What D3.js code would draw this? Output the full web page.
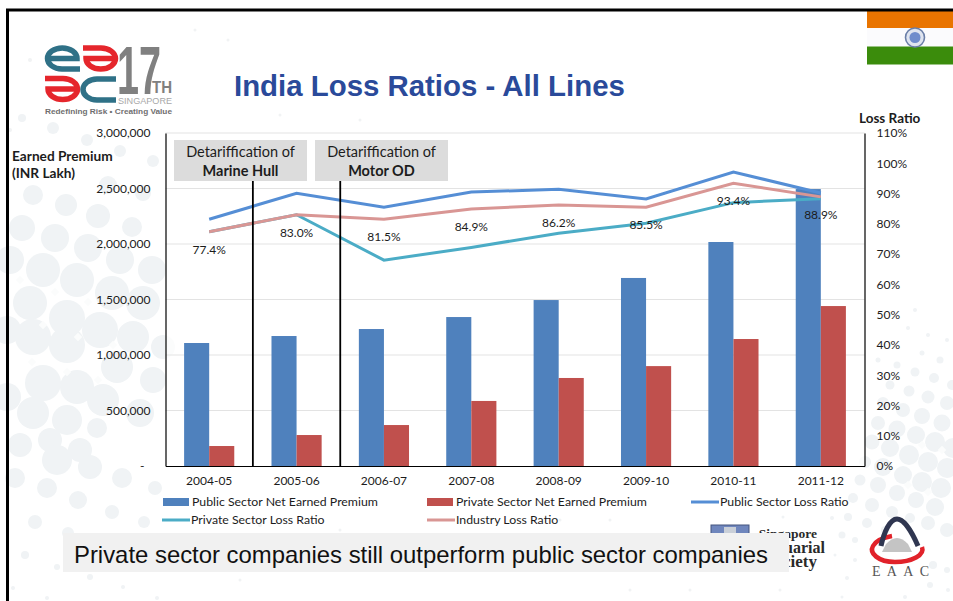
<!DOCTYPE html>
<html>
<head>
<meta charset="utf-8">
<script src="https://cdn.jsdelivr.net/npm/d3@7/dist/d3.min.js"></script>
<style>
  html, body { margin: 0; padding: 0; background: #fff; overflow: hidden; }
  svg { display: block; }
  text { font-family: Lato, "Noto Sans", sans-serif; fill: #1c1c1c; }
</style>
</head>
<body>
<svg id="slide" width="953" height="601"></svg>
<script>
// Fiscal years on the shared category axis
const years = ["2004-05", "2005-06", "2006-07", "2007-08", "2008-09", "2009-10", "2010-11", "2011-12"];

// Net earned premium, INR lakh
const publicPremium = [1108000, 1171000, 1234000, 1342000, 1495000, 1694000, 2018000, 2495000];
const privatePremium = [180000, 279000, 369000, 586000, 793000, 900000, 1144000, 1441000];

// Loss ratios, percent
const publicLoss = [81.5, 90.1, 85.5, 90.5, 91.4, 88.2, 97.1, 90.2];
const privateLoss = [77.4, 83.0, 68.0, 72.2, 76.9, 80.2, 87.0, 88.3];
const industryLoss = [77.4, 83.0, 81.5, 84.9, 86.2, 85.5, 93.4, 88.9];

// Axis ticks
const premiumTicks = [0, 500000, 1000000, 1500000, 2000000, 2500000, 3000000];
const lossTicks = [0, 10, 20, 30, 40, 50, 60, 70, 80, 90, 100, 110];

// Regulatory events, placed on the boundary after a fiscal year
const eventAfterYear = ["2004-05", "2005-06"];
const eventLines = [["Detariffication of", "Marine Hull"], ["Detariffication of", "Motor OD"]];

// Slide wallpaper: bubbles as [x, y, r]
const bubblesLeft = [
  [22,118,4],[53,128,6],[87,140,6],[120,151,6],[153,161,6],[108,185,9],[143,193,8],
  [33,195,10],[66,205,11],[98,216,12],[22,228,13],[55,238,14],[88,248,14],[132,227,10],
  [120,260,14],[152,270,14],[10,260,14],[43,270,17],[77,280,17],[112,293,17],[143,303,17],
  [30,303,17],[67,318,18],[100,330,18],[133,337,16],[163,347,12],[33,337,18],[7,330,14],
  [67,345,18],[117,367,16],[153,380,13],[43,383,18],[77,387,17],[7,397,14],[103,400,16],
  [140,413,14],[33,413,16],[67,420,15],[97,428,10],[20,445,12],[50,440,12],[80,450,12],
  [57,460,15],[90,467,12],[122,478,10],[155,488,7],[15,478,10],[47,488,10],[78,500,9],
  [112,512,7],[144,522,6],[35,522,7],[68,533,6],[25,555,4],[57,567,3],[90,577,3],[123,587,2],
  [13,588,2],[47,598,2],[157,598,2]
];
const bubblesRight = [
  [915,310,2],[908,328,2],[928,335,2],[947,340,2],[922,353,2.5],[940,360,3.5],[878,360,2.5],
  [897,365,3.5],[915,372,4.5],[934,378,5],[952,385,5],[890,385,4.5],[909,391,5.5],[928,397,6.5],
  [947,403,7],[883,403,6],[903,410,7],[922,416,8],[942,423,8.5],[878,423,7],[897,429,8.5],
  [916,435,9],[935,442,10],[953,448,10],[872,442,7.5],[890,448,9],[909,455,10],[928,462,10],
  [947,468,10],[865,462,6],[883,467,9],[903,475,9],[922,482,10],[941,488,10],[860,480,5.5],
  [878,485,8],[897,493,8],[916,500,8],[935,507,9],[853,498,5],[872,505,7],[892,512,6],[910,518,5],
  [928,523,7],[947,530,7],[848,517,4],[867,523,5],[885,530,4],[842,535,3.5],[855,540,3],
  [933,565,4],[947,570,3],[930,585,3],[948,590,2],[905,597,2],[847,578,2],[855,560,2],[842,597,1.5],
  [835,555,1.5],[783,517,1.5],[832,518,2]
];
const specks = [
  [30,60,2],[10,130,2],[195,30,1.5],[228,40,1.5],[280,115,1.5],[360,120,1.5],[240,580,1.5],
  [610,520,1.5],[690,590,1.5],[630,590,1.5],[780,590,1.5],[560,520,1.5],[260,525,2],[340,530,1.5]
];
const sparkles = [
  [55,292],[88,302],[20,280],[43,325],[78,337],[32,362],[67,372],[98,380],[113,345],
  [922,445],[942,450],[908,485],[928,492]
];

const svg = d3.select("#slide");
const plot = { left: 165.5, right: 864.5, top: 133, bottom: 466 };

svg.append("rect").attr("width", 953).attr("height", 601).attr("fill", "#fff");

// Wallpaper
const wallpaper = svg.append("g");
wallpaper.selectAll("circle.large")
  .data(bubblesLeft.concat(bubblesRight))
  .join("circle").attr("class", "large")
  .attr("cx", d => d[0]).attr("cy", d => d[1]).attr("r", d => d[2])
  .attr("fill", "#f0f3f5");
wallpaper.selectAll("circle.speck")
  .data(specks)
  .join("circle").attr("class", "speck")
  .attr("cx", d => d[0]).attr("cy", d => d[1]).attr("r", d => d[2])
  .attr("fill", "#f1f3f4");
wallpaper.selectAll("path.sparkle")
  .data(sparkles)
  .join("path").attr("class", "sparkle")
  .attr("transform", d => `translate(${d[0]},${d[1]}) rotate(45)`)
  .attr("d", d3.symbol(d3.symbolSquare, 36))
  .attr("fill", "#fbfcfc");

// White veil that fades the bubbles behind the plot
svg.append("rect")
  .attr("x", plot.left).attr("y", plot.top)
  .attr("width", plot.right - plot.left).attr("height", plot.bottom - plot.top)
  .attr("fill", "#fff").attr("fill-opacity", 0.72);

// Scales
const x = d3.scaleBand().domain(years).range([plot.left, plot.right]);
const yPremium = d3.scaleLinear().domain([0, 3000000]).range([plot.bottom, plot.top]);
const yLoss = d3.scaleLinear().domain([0, 110]).range([plot.bottom, plot.top]);
const barWidth = x.bandwidth() * 0.287;
const mid = d => x(d) + x.bandwidth() / 2;

// Horizontal gridlines
svg.append("g").selectAll("line")
  .data(premiumTicks.slice(1))
  .join("line")
  .attr("x1", plot.left).attr("x2", plot.right)
  .attr("y1", d => yPremium(d)).attr("y2", d => yPremium(d))
  .attr("stroke", "#e3e3e3").attr("stroke-width", 1.2);

// Bars
const addBars = (values, colour, side) => svg.append("g").selectAll("rect")
  .data(values)
  .join("rect")
  .attr("x", (d, i) => mid(years[i]) + (side < 0 ? -barWidth : 0))
  .attr("y", d => yPremium(d))
  .attr("width", barWidth)
  .attr("height", d => plot.bottom - yPremium(d))
  .attr("fill", colour);
addBars(publicPremium, "#4f81bd", -1);
addBars(privatePremium, "#c0504d", 1);

// Loss ratio lines
const lossLine = d3.line().x((d, i) => mid(years[i])).y(d => yLoss(d));
const addLine = (values, colour) => svg.append("path")
  .attr("d", lossLine(values))
  .attr("fill", "none").attr("stroke", colour)
  .attr("stroke-width", 3).attr("stroke-linejoin", "miter");
addLine(publicLoss, "#558ed5");
addLine(privateLoss, "#4bacc6");
addLine(industryLoss, "#d99694");

// Industry loss ratio labels
svg.append("g").selectAll("text")
  .data(industryLoss)
  .join("text")
  .attr("x", (d, i) => mid(years[i]))
  .attr("y", d => yLoss(d) + 18)
  .attr("dy", "0.35em")
  .attr("text-anchor", "middle")
  .attr("font-size", 12)
  .text(d => d.toFixed(1) + "%");

// Axes
const styleAxis = g => {
  g.selectAll("text").attr("font-size", 12).style("font-family", "Lato, sans-serif").attr("fill", "#1c1c1c");
  g.select(".domain").attr("stroke", "#000").attr("stroke-width", 1.2);
};
svg.append("g")
  .attr("transform", `translate(${plot.left},0)`)
  .call(d3.axisLeft(yPremium).tickValues(premiumTicks).tickSize(0).tickPadding(15)
    .tickFormat(d => d === 0 ? "-\u00a0\u00a0" : d3.format(",")(d)))
  .call(styleAxis);
svg.append("g")
  .attr("transform", `translate(${plot.right},0)`)
  .call(d3.axisRight(yLoss).tickValues(lossTicks).tickSize(0).tickPadding(12)
    .tickFormat(d => d + "%"))
  .call(styleAxis);
svg.append("g")
  .attr("transform", `translate(0,${plot.bottom})`)
  .call(d3.axisBottom(x).tickSize(0).tickPadding(10))
  .call(styleAxis);

// Event markers and their captions
const eventBoxes = [{ left: 174, width: 133 }, { left: 315, width: 133 }];
eventAfterYear.forEach((year, i) => {
  const lineX = x(year) + x.bandwidth();
  svg.append("line")
    .attr("x1", lineX).attr("x2", lineX)
    .attr("y1", 181).attr("y2", plot.bottom)
    .attr("stroke", "#000").attr("stroke-width", 1.8);
  const box = eventBoxes[i];
  svg.append("rect")
    .attr("x", box.left).attr("y", 140).attr("width", box.width).attr("height", 41)
    .attr("fill", "#dcdcdc");
  svg.append("text")
    .attr("x", box.left + box.width / 2).attr("y", 157)
    .attr("text-anchor", "middle").attr("font-size", 14.5)
    .text(eventLines[i][0]);
  svg.append("text")
    .attr("x", box.left + box.width / 2).attr("y", 176)
    .attr("text-anchor", "middle").attr("font-size", 14.5).attr("font-weight", 700)
    .text(eventLines[i][1]);
});

// Axis titles
svg.append("text").attr("x", 12).attr("y", 161).attr("font-size", 13.7).attr("font-weight", 700).text("Earned Premium");
svg.append("text").attr("x", 12).attr("y", 178).attr("font-size", 13.7).attr("font-weight", 700).text("(INR Lakh)");
svg.append("text").attr("x", 859).attr("y", 123).attr("font-size", 13.5).attr("font-weight", 700).text("Loss Ratio");

// Legend
const legendEntries = [
  { label: "Public Sector Net Earned Premium", colour: "#4f81bd", bar: true, at: [163, 502] },
  { label: "Private Sector Net Earned Premium", colour: "#c0504d", bar: true, at: [427, 502] },
  { label: "Public Sector Loss Ratio", colour: "#558ed5", bar: false, at: [691, 502] },
  { label: "Private Sector Loss Ratio", colour: "#4bacc6", bar: false, at: [162, 520] },
  { label: "Industry Loss Ratio", colour: "#d99694", bar: false, at: [427, 520] }
];
legendEntries.forEach(e => {
  const [lx, ly] = e.at;
  if (e.bar) {
    svg.append("rect").attr("x", lx).attr("y", ly - 4).attr("width", 26).attr("height", 8).attr("fill", e.colour);
  } else {
    svg.append("line").attr("x1", lx).attr("x2", lx + 28).attr("y1", ly).attr("y2", ly)
      .attr("stroke", e.colour).attr("stroke-width", 3);
  }
  svg.append("text").attr("x", lx + 29).attr("y", ly).attr("dy", "0.35em").attr("font-size", 12.3).text(e.label);
});

// Slide title
svg.append("text")
  .attr("x", 234).attr("y", 96)
  .style("font-family", "'Liberation Sans', Arial, sans-serif")
  .style("fill", "#2a4a9a")
  .attr("font-size", 29.4).attr("font-weight", 700)
  .text("India Loss Ratios - All Lines");

// Conference logo
const logo = svg.append("g");
const teal = "#2f7187", red = "#e5262c";
const logoStroke = (d, colour) => logo.append("path").attr("d", d)
  .attr("fill", "none").attr("stroke", colour).attr("stroke-width", 5.5);
logoStroke("M47.5 58.5 H77 A14.75 10.5 0 0 0 47.5 58.5 A14.75 10.5 0 0 0 62 69 H80", teal);
logoStroke("M115.5 58.5 H86 A14.75 10.5 0 0 0 115.5 58.5 A14.75 10.5 0 0 0 101 48 H83", red);
logoStroke("M77.5 89 H48 A14.75 10.5 0 0 0 77.5 89 A14.75 10.5 0 0 0 63 78.5 H45", red);
logoStroke("M116 79 H97 A14 10.5 0 0 0 97 100 H116", teal);
logo.append("text").attr("x", 117).attr("y", 94).attr("font-size", 68).attr("textLength", 44)
  .attr("lengthAdjust", "spacingAndGlyphs").attr("font-weight", 700)
  .style("font-family", "'Liberation Sans', sans-serif").style("fill", "#808080").text("17");
logo.append("text").attr("x", 152).attr("y", 93).attr("font-size", 16).attr("textLength", 20)
  .attr("lengthAdjust", "spacingAndGlyphs")
  .style("font-family", "'Liberation Sans', sans-serif").style("fill", "#808080").attr("font-weight", 700).text("TH");
logo.append("text").attr("x", 118).attr("y", 104).attr("font-size", 9).attr("textLength", 54)
  .attr("lengthAdjust", "spacingAndGlyphs")
  .style("font-family", "'Liberation Sans', sans-serif").style("fill", "#a8a8a8").text("SINGAPORE");
logo.append("text").attr("x", 45).attr("y", 114).attr("font-size", 8).attr("textLength", 127)
  .attr("lengthAdjust", "spacingAndGlyphs").attr("font-weight", 700)
  .style("font-family", "'Liberation Sans', sans-serif").style("fill", "#6f6f6f")
  .text("Redefining Risk \u2022 Creating Value");

// Indian flag
const flag = svg.append("g");
flag.append("rect").attr("x", 867).attr("y", 11).attr("width", 86).attr("height", 17).attr("fill", "#e97400");
flag.append("rect").attr("x", 867).attr("y", 28).attr("width", 86).attr("height", 18.5).attr("fill", "#fbfbfd");
flag.append("rect").attr("x", 867).attr("y", 46.5).attr("width", 86).attr("height", 18).attr("fill", "#3b8c0c");
flag.append("circle").attr("cx", 915).attr("cy", 37.5).attr("r", 9.5)
  .attr("fill", "#dfe4ef").attr("stroke", "#6b7fa8").attr("stroke-width", 1.6);
flag.append("circle").attr("cx", 915).attr("cy", 37.5).attr("r", 5.5).attr("fill", "#6f8ccc");

// Actuarial society mark, partly covered by the caption strip
svg.append("rect").attr("x", 711).attr("y", 525).attr("width", 38).attr("height", 30)
  .attr("fill", "#6f86bd").attr("stroke", "#44557f");
svg.append("rect").attr("x", 724).attr("y", 527).attr("width", 12).attr("height", 8).attr("fill", "#c9cfd8");
const serif = "'Liberation Serif', serif";
[["Singapore", 538, 13.5, 817], ["Actuarial", 552.5, 16, 825], ["Society", 567, 17, 817]].forEach(([t, ty, fs, tx]) => {
  svg.append("text").attr("x", tx).attr("y", ty).attr("text-anchor", "end")
    .attr("font-size", fs).attr("font-weight", 700)
    .style("font-family", serif).style("fill", "#2a2a2a").text(t);
});

// Takeaway strip
svg.append("rect").attr("x", 63).attr("y", 533).attr("width", 726).attr("height", 39).attr("fill", "#f1f1f1");
svg.append("text").attr("x", 74).attr("y", 563)
  .style("font-family", "'Liberation Sans', Arial, sans-serif").style("fill", "#111")
  .attr("font-size", 24).attr("textLength", 694).attr("lengthAdjust", "spacingAndGlyphs")
  .text("Private sector companies still outperform public sector companies");

// EAAC emblem
const emblem = svg.append("g");
emblem.append("path").attr("d", "M886 544 Q897 532 908 544 L912 552 L882 552 Z").attr("fill", "#c4c4c4");
emblem.append("path")
  .attr("d", "M922 547 C925 555 912 562 895 562 C878 562 869 553 873 546 C877 539 886 537 892 536")
  .attr("fill", "none").attr("stroke", "#e1222a").attr("stroke-width", 4.5);
emblem.append("path")
  .attr("d", "M881 546 C884 532 890 519 897 519 C904 519 912 532 918 546")
  .attr("fill", "none").attr("stroke", "#2f3650").attr("stroke-width", 5);
emblem.append("text").attr("x", 872).attr("y", 576).attr("font-size", 14).attr("textLength", 57)
  .style("font-family", serif).style("fill", "#555").text("EAAC");

// Slide frame, open at the right and bottom edges
svg.append("path").attr("d", "M7.5 601 V10 H953")
  .attr("fill", "none").attr("stroke", "#000").attr("stroke-width", 3);
</script>
</body>
</html>
